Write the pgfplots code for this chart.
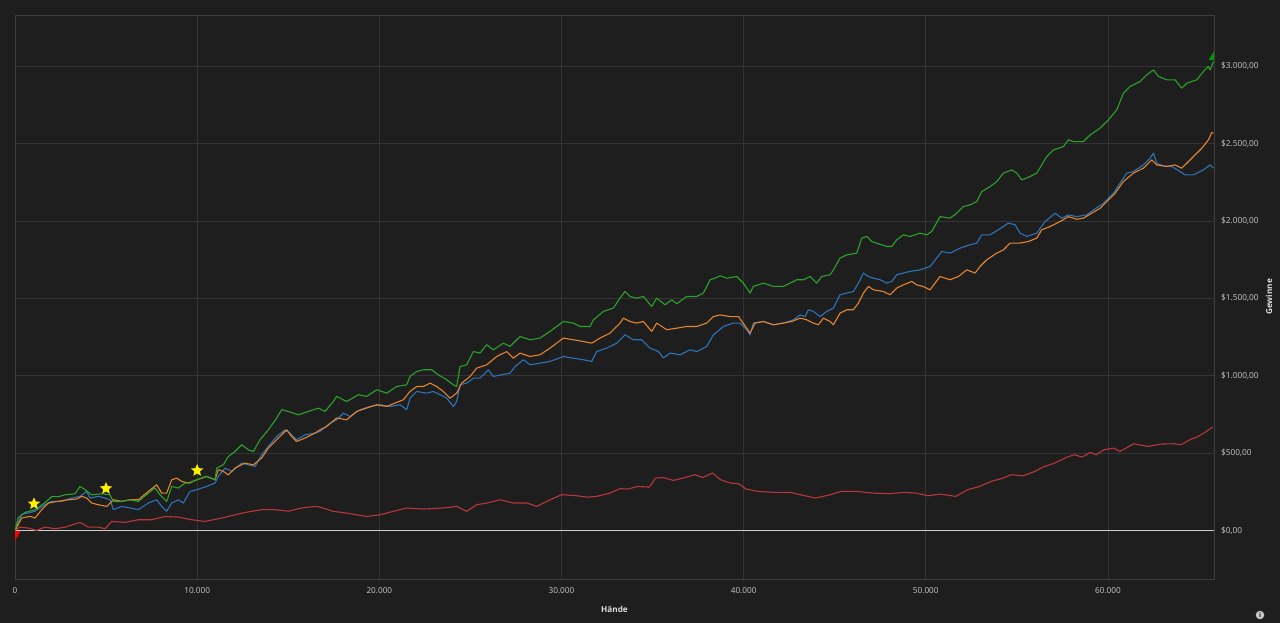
\documentclass[border=0pt]{standalone}
\usepackage{fontspec}
\setmainfont{Open Sans}
\usepackage{pgfplots}
\pgfplotsset{compat=1.18}
\usetikzlibrary{plotmarks}
\definecolor{bgcol}{RGB}{30,30,30}
\definecolor{gridcol}{RGB}{52,52,52}
\definecolor{boxcol}{RGB}{62,62,62}
\definecolor{tickcol}{RGB}{200,200,200}
\definecolor{labcol}{RGB}{222,222,222}
\definecolor{zerocol}{RGB}{205,205,205}
\definecolor{sgreen}{RGB}{44,162,44}
\definecolor{sorange}{RGB}{230,132,45}
\definecolor{sblue}{RGB}{45,115,185}
\definecolor{sred}{RGB}{185,55,60}
\definecolor{starcol}{RGB}{255,240,0}
\pgfdeclareplotmark{fivestar}{%
  \pgfpathmoveto{\pgfpointpolar{90}{\pgfplotmarksize}}%
  \pgfpathlineto{\pgfpointpolar{126}{0.45\pgfplotmarksize}}%
  \pgfpathlineto{\pgfpointpolar{162}{\pgfplotmarksize}}%
  \pgfpathlineto{\pgfpointpolar{198}{0.45\pgfplotmarksize}}%
  \pgfpathlineto{\pgfpointpolar{234}{\pgfplotmarksize}}%
  \pgfpathlineto{\pgfpointpolar{270}{0.45\pgfplotmarksize}}%
  \pgfpathlineto{\pgfpointpolar{306}{\pgfplotmarksize}}%
  \pgfpathlineto{\pgfpointpolar{342}{0.45\pgfplotmarksize}}%
  \pgfpathlineto{\pgfpointpolar{18}{\pgfplotmarksize}}%
  \pgfpathlineto{\pgfpointpolar{54}{0.45\pgfplotmarksize}}%
  \pgfpathclose
  \pgfusepathqfill}
\begin{document}
\begin{tikzpicture}
\path[use as bounding box] (0,0) rectangle (1280pt,623pt);
\fill[bgcol] (0,0) rectangle (1280pt,623pt);
\begin{axis}[
  at={(15pt,44pt)}, anchor=south west,
  width=1199pt, height=564pt, scale only axis,
  xmin=0, xmax=65820, ymin=-314, ymax=3331,
  axis background/.style={fill=bgcol},
  axis line style={draw=boxcol, line width=0.8pt},
  xtick={0,10000,20000,30000,40000,50000,60000},
  xticklabels={0,10.000,20.000,30.000,40.000,50.000,60.000},
  ytick={0,500,1000,1500,2000,2500,3000},
  yticklabels={{\$0,00},{\$500,00},{\$1.000,00},{\$1.500,00},{\$2.000,00},{\$2.500,00},{\$3.000,00}},
  yticklabel pos=right,
  scaled ticks=false,
  /pgf/number format/assume math mode=true,
  major tick length=0pt,
  tick style={draw=none},
  grid=major,
  major grid style={draw=gridcol, line width=0.8pt},
  xticklabel style={font=\fontsize{8.2}{10}\selectfont, text=tickcol, inner sep=0pt, anchor=north, yshift=-8pt},
  yticklabel style={font=\fontsize{8.3}{10}\selectfont, text=tickcol, inner sep=0pt, anchor=west, xshift=7pt},
  xlabel={Hände},
  ylabel={Gewinne},
  every axis x label/.style={at={(axis description cs:0.5,0)}, anchor=center, yshift=-30pt, font=\fontsize{8.2}{10}\selectfont\bfseries, text=labcol},
  every axis y label/.style={at={(axis description cs:1,0.5)}, anchor=center, xshift=55pt, rotate=90, font=\fontsize{8.2}{10}\selectfont\bfseries, text=labcol},
  clip marker paths=true,
  every axis plot/.append style={line join=round},
]
\addplot[draw=zerocol, line width=1.6pt, mark=none] coordinates {(0,0) (65820,0)};
% red
\addplot[draw=sred, line width=1.1pt, mark=none] coordinates {
(0,0) (275,21) (732,15) (1190,0) (1647,21) (2196,11) (2745,21) (3569,52) (4026,21) (4575,21) (4941,11) (5307,58) (6039,52) (6771,69) (7503,69) (8235,90) (8967,86) (9699,69) (10431,58) (11346,80) (12627,116) (13542,134) (14274,134) (15006,124) (15738,145) (16470,155)
(16745,151) (17477,123) (18209,112) (19307,90) (20039,101) (20771,123) (21503,145) (22418,138) (23516,145) (24248,155) (24797,123) (25346,166) (25895,177) (26627,198) (27359,177) (28091,177) (28640,155) (29372,198) (30013,231) (30836,224) (31385,215) (31934,220) (32666,241) (33215,270)
(33636,267) (34178,284) (34829,280) (35153,338) (35587,342) (36129,323) (36672,338) (37323,360) (37757,342) (38299,371) (38731,327) (39278,306) (39710,302) (40145,267) (40796,252) (41664,246) (42532,246) (43183,229) (43943,209) (44702,229) (45353,252) (46220,252) (47088,241) (47956,237) (48824,246) (49475,241) (50126,224) (50777,235) (51645,220) (52296,263) (52947,284) (53598,317) (54249,338) (54683,360) (55334,353) (55985,381) (56419,409) (57070,435) (57721,472) (58155,489) (58589,474) (59023,504) (59349,489) (59783,521) (60325,532) (60651,510) (61411,560) (62170,543) (62930,558) (63581,560) (64015,554) (64557,590) (64883,603) (65317,633) (65751,668)
};
% blue
\addplot[draw=sblue, line width=1.1pt, mark=none] coordinates {
(0,0) (366,103) (732,113) (1098,124) (1647,166) (2013,188) (2562,188) (3111,209) (3569,220) (3935,252) (4118,209) (4575,220) (4941,209) (5216,198) (5399,134) (5856,155) (6314,145) (6771,134) (7320,177) (7778,198) (8052,155) (8327,124) (8601,177) (8967,198) (9242,177) (9608,252) (9974,263) (10523,284) (10980,306) (11163,349) (11529,403) (11895,381) (12444,435) (12810,424) (13176,413) (13542,489) (13908,543) (14366,607) (14823,650) (15098,629) (15464,586) (15921,618) (16470,629)
(16745,640) (17294,693) (17660,715) (18026,758) (18392,736) (18941,780) (19490,801) (20039,812) (20588,801) (21137,812) (21503,780) (21686,855) (22052,898) (22601,887) (22967,898) (23333,877) (23699,855) (24065,801) (24248,833) (24431,941) (24797,952) (25163,984) (25529,984) (25987,1038) (26261,995) (26719,1006) (27176,1016) (27451,1059) (27908,1103) (28274,1070) (28823,1081) (29372,1092) (30104,1124) (30653,1113) (31202,1103) (31660,1092) (31934,1156) (32483,1178) (33032,1210)
(33490,1264) (33947,1232) (34405,1232) (34862,1178) (35320,1156) (35594,1114) (35960,1146) (36509,1135) (37058,1167) (37424,1156) (37973,1189) (38339,1264) (38888,1318) (39437,1340) (39803,1340) (40169,1297) (40352,1264) (40535,1340) (41084,1350) (41633,1329) (42182,1340) (42731,1361) (43097,1393) (43372,1382) (43555,1426) (43829,1415) (44195,1382) (44561,1415) (44927,1437) (45293,1523) (45659,1534) (46025,1544) (46300,1598) (46574,1663) (46849,1641) (47123,1630) (47489,1620) (47855,1598) (48130,1609) (48404,1652) (48770,1663) (49136,1674) (49685,1684)
(50234,1706) (50600,1760) (50875,1803) (51332,1792) (51881,1824) (52430,1846) (52796,1857) (53071,1910) (53528,1910) (53986,1943) (54535,1986) (54901,1975) (55175,1921) (55541,1900) (56090,1921) (56548,1996) (57097,2050) (57463,2018) (57829,2039) (58286,2028) (58835,2039) (59201,2071) (59750,2114) (60299,2179) (60665,2244) (61031,2309) (61397,2319) (61946,2362) (62312,2406) (62495,2438) (62678,2373) (63044,2356) (63502,2352) (63959,2319) (64234,2298) (64691,2298) (65240,2330) (65606,2362) (65789,2341)
};
% orange
\addplot[draw=sorange, line width=1.1pt, mark=none] coordinates {
(0,0) (366,80) (824,91) (1098,80) (1464,134) (1830,177) (2379,188) (2928,198) (3386,203) (3660,220) (3935,209) (4209,177) (4575,166) (5033,155) (5216,177) (5399,198) (5856,188) (6314,198) (6771,198) (7320,252) (7778,295) (8052,241) (8327,241) (8601,327) (8876,338) (9150,317) (9516,306) (9974,327) (10523,349) (10980,327) (11163,392) (11438,381) (11712,359) (12078,403) (12627,435) (13085,424) (13542,468) (13908,532) (14366,586) (14640,618) (14915,650) (15189,607) (15464,575) (15921,597) (16470,629)
(16745,650) (17110,672) (17659,726) (18208,715) (18757,769) (19306,791) (19855,812) (20404,801) (20862,823) (21319,844) (21685,898) (22051,930) (22417,930) (22783,952) (23149,930) (23515,898) (23881,855) (24247,887) (24522,952) (24979,995) (25345,1049) (25894,1070) (26443,1124) (26992,1156) (27358,1113) (27724,1146) (28273,1124) (28822,1135) (29371,1178) (30103,1243) (30652,1232) (31201,1221) (31659,1210) (32116,1243) (32665,1275) (33214,1340)
(33398,1372) (33764,1350) (34130,1340) (34496,1350) (34954,1286) (35228,1340) (35777,1297) (36326,1307) (36875,1318) (37424,1318) (37973,1340) (38339,1382) (38705,1393) (39254,1382) (39712,1382) (40169,1307) (40352,1275) (40627,1340) (41084,1350) (41633,1329) (42182,1340) (42640,1350) (43097,1372) (43463,1361) (43829,1340) (44104,1329) (44378,1372) (44744,1350) (44927,1329) (45293,1404) (45659,1426) (46025,1426) (46300,1469) (46574,1534) (46849,1577) (47123,1555) (47672,1544) (48038,1523) (48404,1566) (48770,1587) (49228,1609) (49502,1587)
(49868,1576) (50234,1555) (50783,1641) (51332,1620) (51790,1641) (52247,1684) (52705,1663) (52979,1706) (53345,1749) (53894,1792) (54260,1813) (54626,1857) (55175,1857) (55633,1867) (56090,1889) (56365,1943) (56822,1964) (57371,1996) (57829,2028) (58286,2011) (58652,2018) (59110,2050) (59567,2082) (59933,2125) (60391,2179) (60848,2255) (61397,2309) (61946,2341) (62404,2395) (62678,2362) (63227,2352) (63685,2362) (64051,2341) (64325,2373) (64783,2427) (65149,2470) (65515,2524) (65698,2571) (65789,2567)
};
% green
\addplot[draw=sgreen, line width=1.1pt, mark=none] coordinates {
(0,0) (183,83) (549,116) (1098,134) (1647,179) (2013,218) (2379,218) (2745,230) (3294,237) (3569,284) (3843,263) (4209,230) (4758,237) (5216,230) (5399,187) (5856,187) (6314,198) (6771,187) (7320,241) (7686,274) (7961,230) (8327,187) (8601,284) (8967,274) (9333,306) (9608,306) (9974,327) (10523,349) (10980,327) (11072,403) (11438,424) (11712,478) (12078,510) (12444,553) (12810,521) (13085,510) (13451,586) (13908,650) (14366,726) (14640,780) (15006,769) (15555,747) (16104,769) (16653,790) (17019,769)
(17476,833) (17659,866) (18208,833) (18849,877) (19306,866) (19855,909) (20404,887) (20953,930) (21502,941) (21685,995) (22051,1027) (22417,1038) (22874,1038) (23240,1006) (23698,974) (24064,941) (24247,930) (24430,1059) (24796,1070) (25162,1156) (25528,1146) (25894,1200) (26260,1167) (26809,1210) (27175,1189) (27724,1253) (28273,1232) (28822,1243) (29371,1286) (30103,1350) (30652,1340) (31018,1318) (31567,1318) (31750,1361) (32299,1415) (32849,1437) (33214,1501)
(33489,1544) (33763,1512) (34129,1501) (34495,1512) (34953,1447) (35227,1501) (35685,1458) (36051,1490) (36326,1465) (36875,1512) (37424,1512) (37790,1534) (38156,1620) (38431,1630) (38705,1646) (39071,1630) (39620,1641) (39986,1598) (40352,1534) (40535,1577) (41084,1598) (41633,1577) (42182,1577) (42548,1598) (42914,1620) (43280,1620) (43646,1641) (44012,1598) (44287,1641) (44745,1652) (44928,1684) (45294,1760) (45660,1781) (46209,1792) (46484,1889) (46758,1900) (47033,1867) (47307,1856) (47856,1835) (48131,1835) (48405,1878) (48771,1910) (49137,1900)
(49685,1921) (50051,1910) (50325,1932) (50783,2028) (51332,2018) (51698,2050) (52064,2093) (52430,2104) (52796,2125) (53071,2190) (53528,2222) (53894,2254) (54260,2309) (54718,2330) (54992,2309) (55267,2265) (55725,2287) (56091,2309) (56640,2416) (57006,2459) (57555,2481) (57829,2524) (58104,2513) (58653,2513) (59019,2556) (59568,2600) (60025,2653) (60483,2718) (60849,2826) (61215,2869) (61764,2901) (62130,2944) (62496,2976) (62770,2934) (63228,2912) (63685,2912) (64051,2858) (64326,2890) (64875,2912) (65241,2966) (65516,2998) (65607,2976) (65790,3030)
};
% stars
\addplot[only marks, mark=fivestar, mark size=6.5pt, color=starcol] coordinates {(1043,172) (4996,271) (10000,387)};
% start / end triangles
\addplot[only marks, mark=triangle*, mark size=6pt, color=red, mark options={rotate=180}] coordinates {(0,-26)};
\addplot[only marks, mark=triangle*, mark size=5.5pt, color=green!60!black] coordinates {(65820,3059)};
\end{axis}
\node[circle, fill=tickcol, inner sep=0pt, minimum size=8.5pt, text=bgcol, font=\fontsize{6.5}{7}\selectfont\bfseries] at (1260pt,8pt) {i};
\end{tikzpicture}
\end{document}
